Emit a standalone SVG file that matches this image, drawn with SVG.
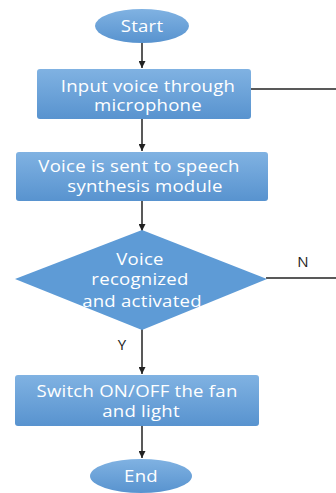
<svg xmlns="http://www.w3.org/2000/svg" width="336" height="493" viewBox="0 0 336 493">
<defs>
<linearGradient id="g" x1="0" y1="0" x2="0" y2="1">
<stop offset="0" stop-color="#80b2e2"/>
<stop offset="1" stop-color="#5893cf"/>
</linearGradient>
<marker id="ah" viewBox="0 0 10 10" refX="10" refY="5" markerWidth="7" markerHeight="7" markerUnits="userSpaceOnUse" orient="auto">
<path d="M0,0 L10,5 L0,10 z" fill="#222"/>
</marker>
</defs>
<style>
.n{fill:url(#g);}
.d{fill:#5e9bd6;}
.t{font-family:"Open Sans","DejaVu Sans",sans-serif;font-size:15.5px;letter-spacing:0.2px;fill:#fff;text-anchor:middle;transform-box:fill-box;transform-origin:center;transform:scaleX(1.2);}
.l{font-family:"Open Sans","DejaVu Sans",sans-serif;font-size:15px;fill:#222;text-anchor:middle;}
.c{stroke:#222;stroke-width:1.5;fill:none;}
</style>
<rect width="336" height="493" fill="#fff"/>
<g id="connectors">
<line class="c" x1="142" y1="43" x2="142" y2="68" marker-end="url(#ah)"/>
<line class="c" x1="142" y1="119" x2="142" y2="151" marker-end="url(#ah)"/>
<line class="c" x1="251" y1="89" x2="336" y2="89"/>
<line class="c" x1="142" y1="201" x2="142" y2="231" marker-end="url(#ah)"/>
<line class="c" x1="266" y1="278" x2="336" y2="278"/>
<text class="l" x="303" y="267">N</text>
<line class="c" x1="142" y1="329" x2="142" y2="374" marker-end="url(#ah)"/>
<text class="l" x="122" y="350">Y</text>
<line class="c" x1="142" y1="426" x2="142" y2="458" marker-end="url(#ah)"/>
</g>
<g id="start">
<ellipse class="n" cx="142" cy="26" rx="47" ry="17"/>
<text class="t" x="142" y="32">Start</text>
</g>
<g id="input">
<rect class="n" x="37" y="69" width="214" height="50" rx="3"/>
<text class="t" x="148" y="92">Input voice through</text>
<text class="t" x="148" y="111">microphone</text>
</g>
<g id="synthesis">
<rect class="n" x="16" y="152" width="252" height="49" rx="3"/>
<text class="t" x="139" y="172">Voice is sent to speech</text>
<text class="t" x="145" y="192">synthesis module</text>
</g>
<g id="decision">
<polygon class="d" points="142,230 267,279 142,330 15,279"/>
<text class="t" x="140" y="265">Voice</text>
<text class="t" x="140" y="285">recognized</text>
<text class="t" x="142" y="307">and activated</text>
</g>
<g id="switch">
<rect class="n" x="15" y="375" width="244" height="51" rx="3"/>
<text class="t" x="137" y="397">Switch ON/OFF the fan</text>
<text class="t" x="141" y="417">and light</text>
</g>
<g id="end">
<ellipse class="n" cx="141" cy="476" rx="51" ry="17"/>
<text class="t" x="141" y="482">End</text>
</g>
</svg>
